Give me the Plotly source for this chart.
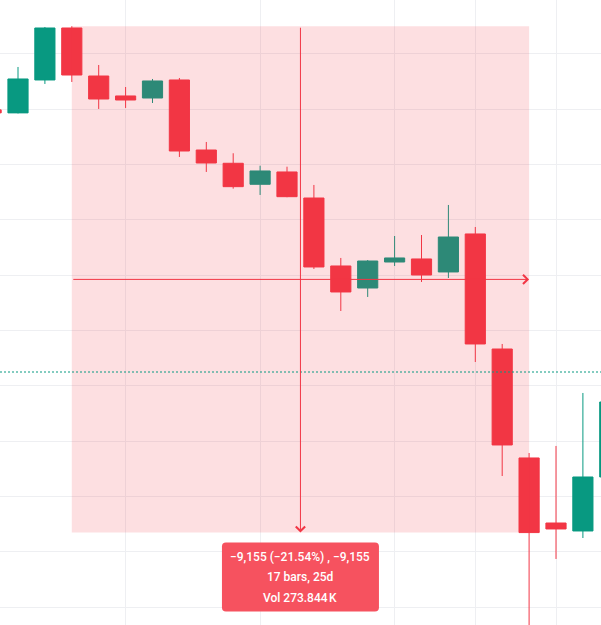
import plotly.graph_objects as go

# ---------------- data ----------------
bar_index = list(range(-1, 23))
open_ = [40990, 40935, 41530, 42470, 41602, 41241, 41204, 41530, 40264, 40024, 39644, 39867,
         39396, 38167, 37769, 38239, 38294, 38059, 38746, 36666, 34696, 33520, 33376, 34352]
high = [41000, 41765, 42488, 42502, 41801, 41403, 41548, 41566, 40409, 40205, 39980, 39962,
        39632, 38312, 38275, 38709, 38727, 39270, 38872, 36757, 34786, 34913, 35871, 36000]
low = [40925, 40925, 41458, 41494, 41006, 41024, 41114, 40138, 39867, 39565, 39451, 39410,
       38113, 37353, 37607, 38167, 37878, 37950, 36431, 34370, 31300, 32870, 33249, 34300]
close = [40935, 41548, 42470, 41620, 41186, 41168, 41512, 40246, 40029, 39601, 39885, 39420,
         38149, 37697, 38257, 38312, 38004, 38691, 36757, 34931, 33347, 33412, 34352, 35708]

# time-grid positions (bar indexes)
x_grid_ticks = [4, 9, 14, 17, 20]

# measurement tool
measure_start_idx = 2
measure_end_idx = 19
measure_start_price = 42502
measure_end_price = 33347
measure_days = 25
measure_volume = "273.844\u202fK"

last_price_line = 36250

# ---------------- layout constants ----------------
FIG_W, FIG_H = 601, 625
x_range = [-0.669, 21.673]
y_range = [31676, 42976]
RED = "#f23645"
GREEN = "#089981"

fig = go.Figure()
fig.add_trace(go.Candlestick(
    x=bar_index, open=open_, high=high, low=low, close=close,
    increasing=dict(line=dict(color=GREEN, width=1), fillcolor=GREEN),
    decreasing=dict(line=dict(color=RED, width=1), fillcolor=RED),
    whiskerwidth=0, hoverinfo="skip", showlegend=False,
))

# measurement box
fig.add_shape(type="rect", xref="x", yref="y",
              x0=measure_start_idx, x1=measure_end_idx,
              y0=measure_start_price, y1=measure_end_price,
              fillcolor="rgba(242,54,69,0.16)", line=dict(width=0), layer="above")

# last price dotted line
fig.add_shape(type="line", xref="paper", yref="y", x0=0, x1=1,
              y0=last_price_line, y1=last_price_line,
              line=dict(color=GREEN, width=1, dash="2px,2px"), layer="above")

cx = (measure_start_idx + measure_end_idx) / 2
cy = (measure_start_price + measure_end_price) / 2

# crosshair arrows
fig.add_annotation(x=measure_end_idx, y=cy, ax=measure_start_idx, ay=cy,
                   xref="x", yref="y", axref="x", ayref="y", text="",
                   showarrow=True, arrowhead=4, arrowsize=1.8, arrowwidth=1,
                   arrowcolor=RED, standoff=0, startstandoff=0)
fig.add_annotation(x=cx, y=measure_end_price, ax=cx, ay=measure_start_price,
                   xref="x", yref="y", axref="x", ayref="y", text="",
                   showarrow=True, arrowhead=4, arrowsize=1.8, arrowwidth=1,
                   arrowcolor=RED, standoff=0, startstandoff=0)

# tooltip box (rounded rect)
px_x = (x_range[1] - x_range[0]) / FIG_W
px_y = (y_range[1] - y_range[0]) / FIG_H
w, h, r, gap = 157, 69, 4, 10
top = measure_end_price - gap * px_y
bottom = top - h * px_y
left = cx - w / 2 * px_x
right = cx + w / 2 * px_x
rx, ry = r * px_x, r * px_y
path = (f"M{left+rx},{top} L{right-rx},{top} Q{right},{top} {right},{top-ry} "
        f"L{right},{bottom+ry} Q{right},{bottom} {right-rx},{bottom} "
        f"L{left+rx},{bottom} Q{left},{bottom} {left},{bottom+ry} "
        f"L{left},{top-ry} Q{left},{top} {left+rx},{top} Z")
fig.add_shape(type="path", xref="x", yref="y", path=path,
              fillcolor="#f6525f", line=dict(width=0), layer="above")

change = measure_end_price - measure_start_price
pct = change / measure_start_price * 100
chg_txt = f"{change:,}".replace("-", "\u2212")
pct_txt = f"{pct:.2f}%".replace("-", "\u2212")
bars = measure_end_idx - measure_start_idx
lines = [f"{chg_txt} ({pct_txt}) , {chg_txt}",
         f"{bars} bars, {measure_days}d",
         f"Vol {measure_volume}"]
for i, t in enumerate(lines):
    fig.add_annotation(x=cx, y=measure_end_price, xref="x", yref="y",
                       text=t, showarrow=False, yanchor="middle",
                       yshift=-(24 + 20.5 * i),
                       font=dict(family="Roboto", size=12, color="white", weight=500))

fig.update_layout(
    width=FIG_W, height=FIG_H,
    margin=dict(l=0, r=0, t=0, b=0),
    paper_bgcolor="white", plot_bgcolor="white",
    hovermode=False, dragmode=False, showlegend=False,
    boxgap=0.25, boxgroupgap=0,
    xaxis=dict(range=x_range, showticklabels=False, tickvals=x_grid_ticks,
               showgrid=True, gridcolor="#eeeff2", gridwidth=1, zeroline=False,
               showline=False, rangeslider=dict(visible=False), fixedrange=True),
    yaxis=dict(range=y_range, showticklabels=False, dtick=1000, tick0=0,
               showgrid=True, gridcolor="#eeeff2", gridwidth=1, zeroline=False,
               showline=False, fixedrange=True),
)

fig.write_html("out.html", config={"displayModeBar": False},
               post_script="document.body.style.margin='0';document.body.style.overflow='hidden';")
